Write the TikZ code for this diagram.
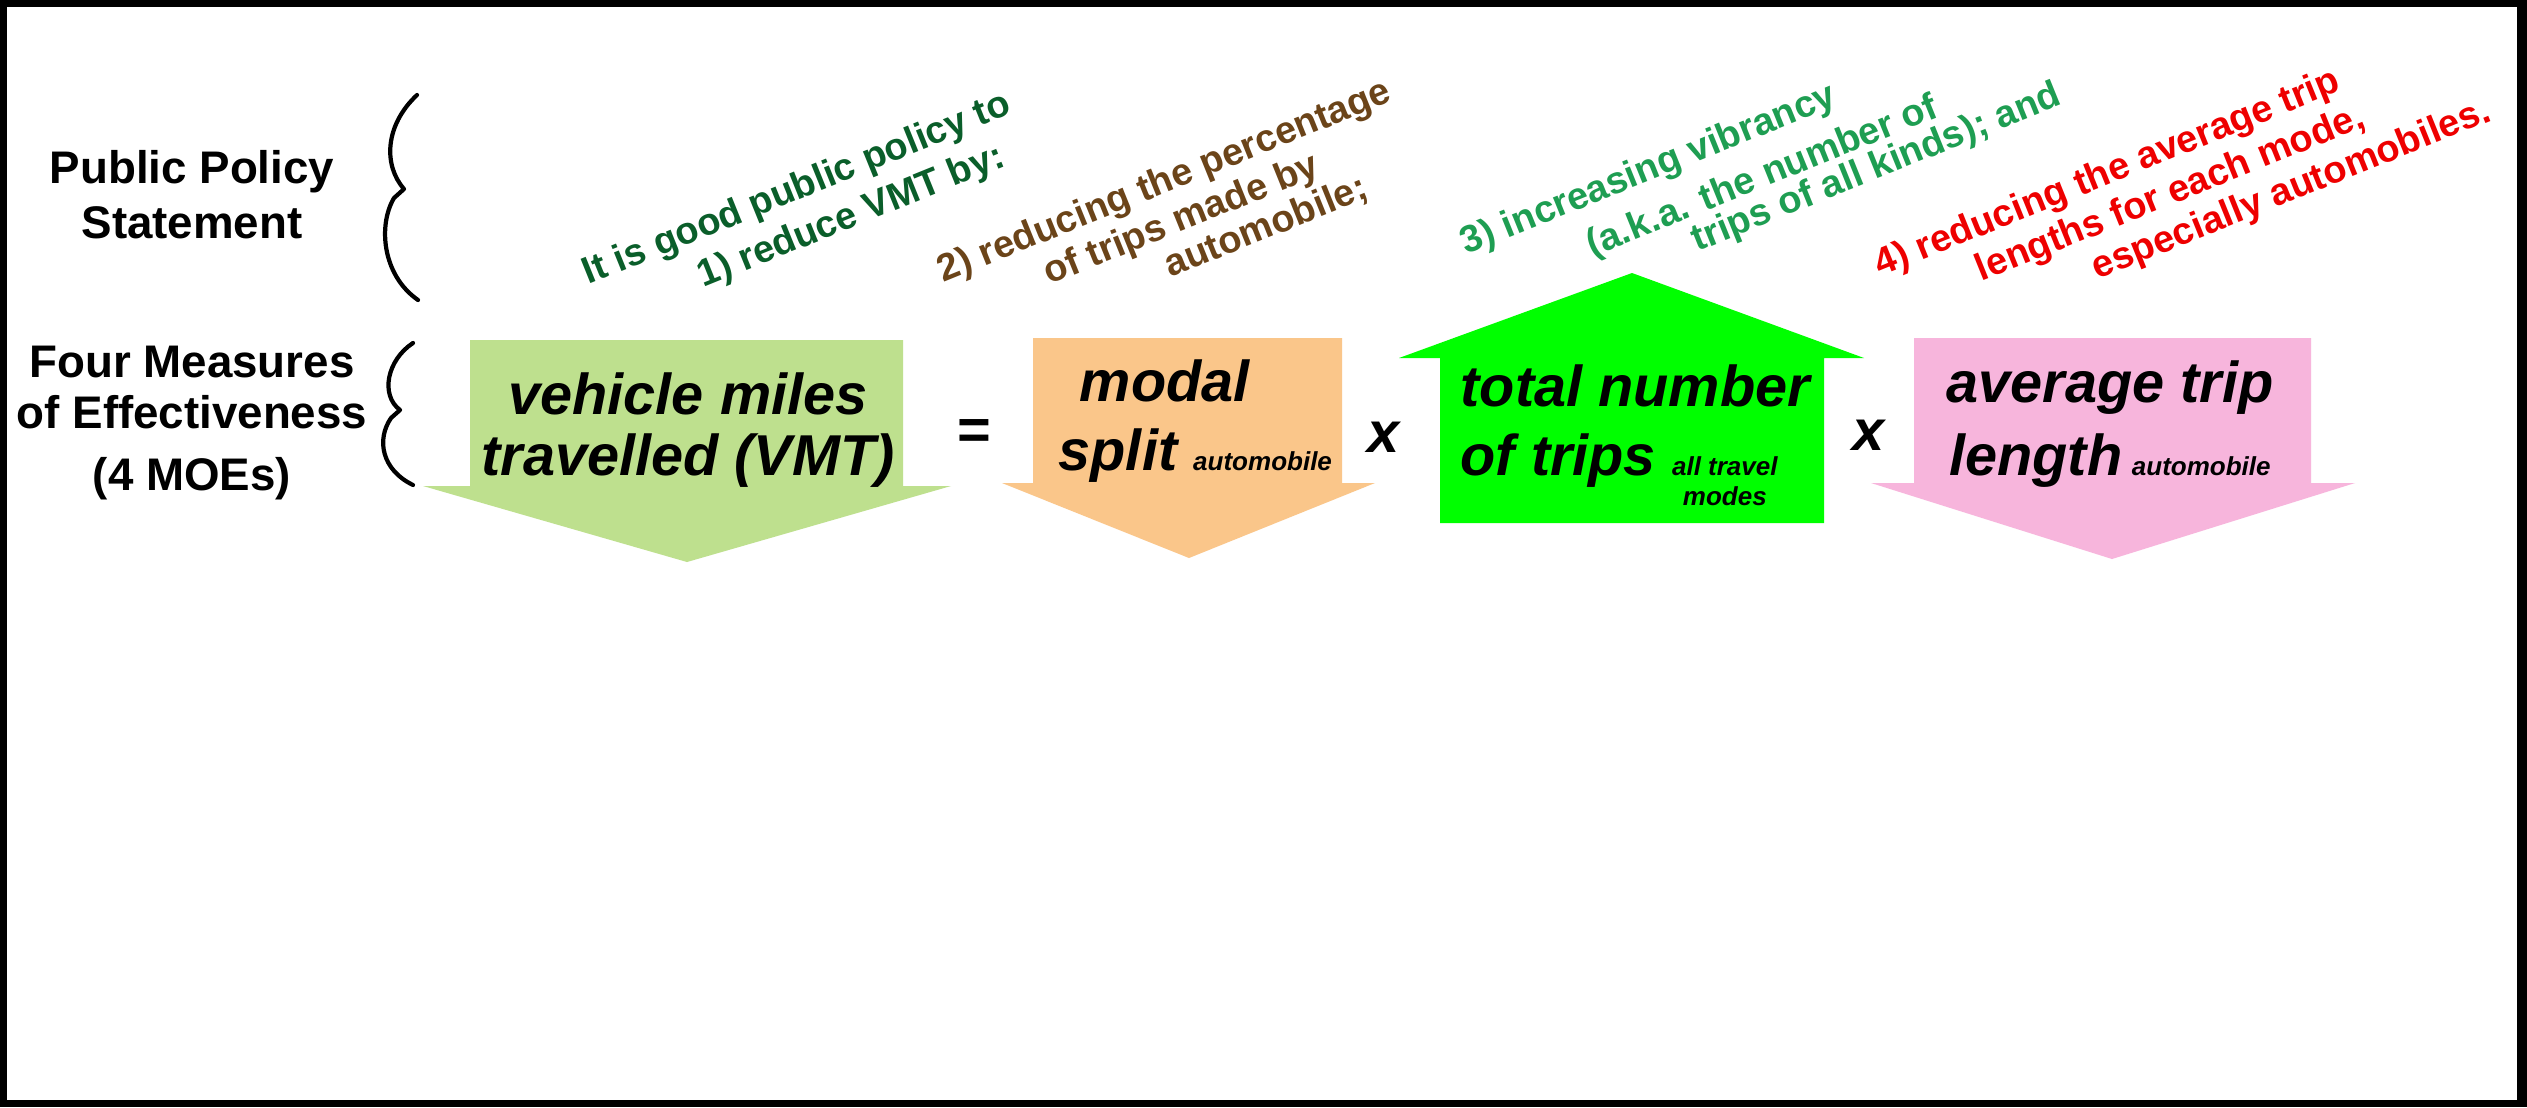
\documentclass[tikz,border=0pt]{standalone}
\usepackage{fontspec}
\setmainfont{Liberation Sans}
\usetikzlibrary{positioning}
\definecolor{vmt-green}{HTML}{BEE08E}
\definecolor{split-orange}{HTML}{FAC68A}
\definecolor{trips-green}{HTML}{00FF00}
\definecolor{length-pink}{HTML}{F7B5DC}
\definecolor{note-darkgreen}{HTML}{0A5E2A}
\definecolor{note-brown}{HTML}{6B4419}
\definecolor{note-green}{HTML}{1E9E52}
\definecolor{note-red}{HTML}{EE0000}
\newcommand{\moesub}{\fontsize{7.4}{8.6}\selectfont}
\tikzset{
    moe/.style={font=\fontsize{16.4}{19.5}\selectfont\bfseries\itshape, inner sep=0pt},
    heading/.style={font=\fontsize{13}{14.5}\selectfont\bfseries, align=center, inner sep=0pt, anchor=base},
    note/.style={font=\fontsize{10.8}{13}\selectfont\bfseries, rotate=22, anchor=base west, inner sep=0pt},
    brace/.style={line width=1.2pt, line cap=round, line join=round},
}

\begin{document}
\begin{tikzpicture}
    % frame
    \fill[black] (0,0) rectangle (25.27, 11.07);
    \fill[white] (0.07,0.07) rectangle (25.17, 11.00);

    % row labels and their braces (multi-line nodes sit on their last line)
    \node[heading] (policy) at (1.92, 8.69) {Public Policy\\[1.1pt]Statement};
    \node[heading] (moes) at (1.92, 6.17) {Four Measures\\of Effectiveness\\[3.1pt](4 MOEs)};

    \draw[brace] (4.17,10.12) .. controls (3.85,9.82) and (3.83,9.42) .. (4.04,9.18) -- (3.94,9.09)
        .. controls (3.78,8.82) and (3.82,8.32) .. (4.18,8.07);
    \draw[brace] (4.13,7.64) .. controls (3.87,7.47) and (3.80,7.12) .. (4.00,6.97) -- (3.91,6.89)
        .. controls (3.76,6.67) and (3.82,6.37) .. (4.13,6.22);

    % the four arrows
    \fill[vmt-green] (4.70,7.67) -- (9.03,7.67) -- (9.03,6.21) -- (9.51,6.21) -- (6.87,5.45) -- (4.23,6.21) -- (4.70,6.21) -- cycle;
    \fill[split-orange] (10.33,7.69) -- (13.42,7.69) -- (13.42,6.24) -- (13.75,6.24) -- (11.89,5.49) -- (10.02,6.24) -- (10.33,6.24) -- cycle;
    \fill[trips-green] (14.40,5.84) -- (18.24,5.84) -- (18.24,7.49) -- (18.64,7.49) -- (16.32,8.34) -- (13.99,7.49) -- (14.40,7.49) -- cycle;
    \fill[length-pink] (19.14,7.69) -- (23.11,7.69) -- (23.11,6.24) -- (23.55,6.24) -- (21.12,5.48) -- (18.71,6.24) -- (19.14,6.24) -- cycle;

    \node[moe, align=center, anchor=base] (vmt) at (6.88, 6.32) {vehicle miles\\[-2.4pt]travelled (VMT)};
    \node[moe] (eq) at (9.73, 6.72) {=};
    \node[moe, align=left, anchor=base west] (split) at (10.58, 6.37) {\hspace*{6pt}modal\\split {\moesub automobile}};
    \node[moe] (times1) at (13.84, 6.70) {x};
    \node[moe, align=left, anchor=base west] (trips) at (14.60, 6.32)
        {total number\\of trips {\moesub\begin{tabular}[t]{@{}c@{}}all travel\\modes\end{tabular}}};
    \node[moe] (times2) at (18.68, 6.72) {x};
    \node[moe, align=center, anchor=base] (length) at (21.10, 6.32) {average trip\\[1.2pt]length\,{\moesub automobile}};

    % slanted policy notes
    \node[note, text=note-darkgreen] (pol1) at (5.88, 8.22) {It is good public policy to};
    \node[note, text=note-darkgreen] (pol2) at (7.03, 8.19) {1) reduce VMT by:};

    \node[note, text=note-brown] (sp1) at (9.43, 8.24) {2) reducing the percentage};
    \node[note, text=note-brown] (sp2) at (10.49, 8.22) {of trips made by};
    \node[note, text=note-brown] (sp3) at (11.70, 8.29) {automobile;};

    \node[note, text=note-green] (vib1) at (14.66, 8.52) {3) increasing vibrancy};
    \node[note, text=note-green] (vib2) at (15.92, 8.50) {(a.k.a. the number of};
    \node[note, text=note-green] (vib3) at (16.97, 8.55) {trips of all kinds); and};

    \node[note, text=note-red] (len1) at (18.80, 8.30) {4) reducing the average trip};
    \node[note, text=note-red] (len2) at (19.81, 8.25) {lengths for each mode,};
    \node[note, text=note-red] (len3) at (20.97, 8.27) {especially automobiles.};
\end{tikzpicture}
\end{document}
